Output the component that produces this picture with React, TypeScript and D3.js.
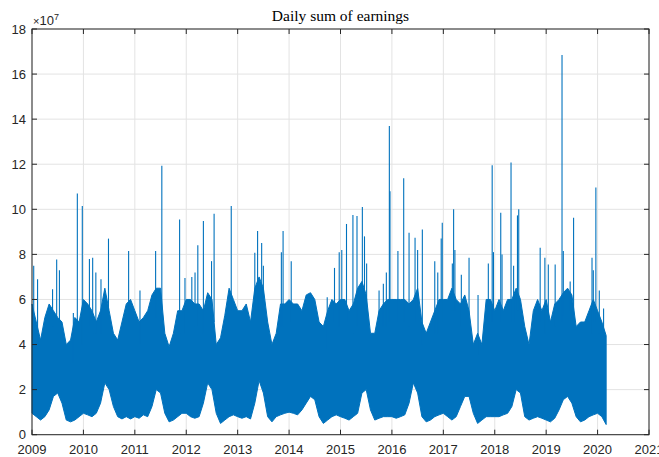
import * as d3 from "d3";

const WIDTH = 659;
const HEIGHT = 457;
const MARGIN = { top: 29, right: 10, bottom: 22.3, left: 32 };

const START_YEAR = 2009;
const xTicks = [2009, 2010, 2011, 2012, 2013, 2014, 2015, 2016, 2017, 2018, 2019, 2020, 2021];
const yTicks = [0, 2, 4, 6, 8, 10, 12, 14, 16, 18];

// monthly top of the dense band (x 1e7), Jan 2009 .. Mar 2020
const monthlyHigh = [
  5.8, 5.0, 4.2, 5.2, 5.8, 5.5, 5.2, 5.0, 4.0, 4.2, 5.2, 5.0,
  6.0, 5.8, 5.5, 5.0, 5.5, 6.5, 5.5, 4.5, 4.2, 5.0, 5.8, 6.0,
  5.5, 5.0, 5.2, 5.5, 6.2, 6.5, 6.5, 4.5, 3.9, 4.5, 5.5, 5.5,
  6.0, 6.0, 5.8, 5.8, 5.5, 6.3, 6.0, 4.0, 4.3, 5.3, 6.5, 6.0,
  5.5, 5.5, 5.8, 5.0, 6.5, 7.0, 6.5, 5.0, 4.0, 4.5, 5.8, 5.8,
  6.0, 5.8, 5.8, 5.5, 6.2, 6.3, 6.0, 5.0, 4.8, 5.5, 6.0, 5.8,
  6.0, 6.0, 5.5, 5.8, 6.5, 6.8, 6.2, 4.5, 4.5, 5.5, 5.8, 6.0,
  6.0, 6.0, 6.0, 6.0, 5.8, 6.0, 6.5, 5.0, 4.5, 5.0, 5.5, 6.0,
  6.0, 6.0, 6.5, 6.0, 5.8, 6.2, 5.5, 4.0, 4.5, 4.0, 6.0, 6.0,
  5.5, 6.0, 5.5, 6.0, 6.0, 6.5, 6.0, 4.8, 4.0, 5.5, 6.0, 5.5,
  6.0, 5.0, 5.8, 6.0, 6.3, 6.5, 6.2, 4.8, 5.0, 5.0, 5.5, 6.0,
  5.5, 5.0, 4.4,
];

// monthly lower envelope (x 1e7)
const monthlyLow = [
  0.95, 0.8, 0.65, 0.8, 1.1, 1.7, 1.85, 1.4, 0.65, 0.57, 0.65, 0.8,
  0.95, 0.88, 0.8, 0.95, 1.4, 2.3, 2.0, 1.25, 0.8, 0.7, 0.8, 0.7,
  0.8, 0.73, 0.88, 0.8, 1.25, 2.0, 1.85, 0.95, 0.57, 0.65, 0.8, 0.95,
  0.95, 0.8, 0.73, 0.8, 1.4, 2.3, 2.0, 0.95, 0.5, 0.65, 0.8, 0.88,
  0.8, 0.73, 0.8, 0.7, 1.4, 2.4, 1.85, 0.8, 0.57, 0.8, 0.88, 0.95,
  1.0, 0.95, 0.88, 1.1, 1.4, 1.7, 1.55, 0.8, 0.5, 0.65, 0.8, 0.88,
  0.8, 0.73, 0.65, 0.8, 0.95, 1.85, 2.0, 1.1, 0.65, 0.73, 0.8, 0.8,
  0.8, 0.73, 0.8, 0.88, 1.4, 2.3, 1.85, 0.8, 0.57, 0.65, 0.8, 0.88,
  0.95, 0.8, 0.65, 0.8, 1.25, 1.7, 1.7, 0.95, 0.5, 0.65, 0.8, 0.8,
  0.8, 0.8, 0.88, 0.95, 1.25, 2.0, 1.85, 0.8, 0.65, 0.73, 0.8, 0.73,
  0.65, 0.57, 0.73, 1.1, 1.55, 1.7, 1.4, 0.8, 0.57, 0.65, 0.8, 0.88,
  0.95, 0.8, 0.45,
];

// isolated daily peaks: [months since Jan 2009, value x 1e7]
const spikes: [number, number][] = [
  [0.4, 7.5], [1.3, 6.9], [4.8, 6.45], [5.76, 7.77], [6.4, 7.3], [9.65, 5.4],
  [10.58, 10.7], [11.74, 10.15], [13.4, 7.8], [14.16, 7.85], [14.9, 7.2],
  [16.1, 6.9], [17.85, 8.7], [22.55, 8.15], [25.2, 6.4], [28.85, 8.15],
  [30.3, 11.93], [34.45, 9.55], [35.7, 6.95], [37.3, 7.0], [38.05, 7.2],
  [38.7, 8.4], [40.0, 9.48], [41.9, 7.7], [42.5, 9.8], [46.5, 10.15],
  [52.0, 8.07], [52.65, 9.04], [53.6, 8.5], [54.0, 7.5], [58.2, 8.1],
  [58.6, 9.04], [60.5, 7.7], [68.9, 6.1], [70.6, 7.4], [71.7, 8.1],
  [72.3, 8.2], [73.4, 9.35], [74.9, 9.75], [75.85, 9.7], [77.1, 10.1],
  [77.6, 8.8], [78.1, 7.6], [81.0, 6.4], [82.0, 6.7], [82.7, 7.2],
  [83.4, 13.7], [83.55, 10.8], [85.4, 8.15], [86.75, 11.38], [88.0, 8.96],
  [89.4, 8.74], [90.0, 8.2], [91.1, 9.1], [94.0, 7.7], [94.7, 7.2],
  [95.5, 8.7], [95.75, 9.4], [98.1, 7.6], [98.4, 10.0], [98.7, 8.2],
  [100.2, 7.1], [102.0, 7.85], [104.1, 6.2], [106.5, 7.6], [107.4, 11.96],
  [107.7, 8.1], [109.4, 9.85], [109.7, 8.0], [111.8, 12.08], [112.4, 7.5],
  [113.3, 9.73], [113.6, 10.0], [118.6, 8.3], [119.7, 7.85], [120.5, 7.55],
  [122.1, 7.55], [123.7, 16.85], [124.0, 8.15], [125.6, 6.8], [126.4, 9.63],
  [130.7, 7.85], [131.0, 7.3], [131.6, 10.97], [132.4, 6.4], [133.4, 5.6],
];

const LINE_COLOR = "#0072BD";
const AXIS_COLOR = "#262626";
const GRID_COLOR = "#e3e3e3";
const SANS = "'Liberation Sans', Arial, Helvetica, sans-serif";
const SERIF = "'Liberation Serif', 'Times New Roman', serif";

const App = () => {
  const boundsWidth = WIDTH - MARGIN.left - MARGIN.right;
  const boundsHeight = HEIGHT - MARGIN.top - MARGIN.bottom;

  const xScale = d3.scaleLinear().domain([2009, 2021]).range([0, boundsWidth]);
  const yScale = d3.scaleLinear().domain([0, 18]).range([boundsHeight, 0]);

  const monthX = (m: number) => xScale(START_YEAR + m / 12);

  const band = monthlyHigh.map((h, i) => ({ m: i, hi: h, lo: monthlyLow[i] }));

  const areaBuilder = d3
    .area<{ m: number; hi: number; lo: number }>()
    .x((d) => monthX(d.m))
    .y0((d) => yScale(d.lo))
    .y1((d) => yScale(d.hi));

  const bandPath = areaBuilder(band);

  const spikeLines = spikes.map(([m, v], i) => {
    const idx = Math.min(monthlyLow.length - 1, Math.floor(m));
    return (
      <line
        key={i}
        x1={monthX(m)}
        x2={monthX(m)}
        y1={yScale(monthlyHigh[idx] - 1)}
        y2={yScale(v)}
        stroke={LINE_COLOR}
        strokeWidth={1.1}
      />
    );
  });

  const tickLen = 5;

  return (
    <svg
      width={WIDTH}
      height={HEIGHT}
      style={{ position: "absolute", left: 0, top: 0, background: "white" }}
    >
      <text
        x={MARGIN.left + boundsWidth / 2}
        y={21}
        textAnchor="middle"
        fontFamily={SERIF}
        fontSize={15.5}
        fill="#000"
      >
        Daily sum of earnings
      </text>
      <g transform={`translate(${MARGIN.left},${MARGIN.top})`}>
        {/* grid */}
        {xTicks.map((t) => (
          <line
            key={"gx" + t}
            x1={xScale(t)}
            x2={xScale(t)}
            y1={0}
            y2={boundsHeight}
            stroke={GRID_COLOR}
            strokeWidth={1}
          />
        ))}
        {yTicks.map((t) => (
          <line
            key={"gy" + t}
            x1={0}
            x2={boundsWidth}
            y1={yScale(t)}
            y2={yScale(t)}
            stroke={GRID_COLOR}
            strokeWidth={1}
          />
        ))}

        {/* data */}
        <path d={bandPath!} fill={LINE_COLOR} stroke={LINE_COLOR} strokeWidth={1} />
        {spikeLines}

        {/* box */}
        <rect
          x={0}
          y={0}
          width={boundsWidth}
          height={boundsHeight}
          fill="none"
          stroke={AXIS_COLOR}
          strokeWidth={1}
        />

        {/* x ticks */}
        {xTicks.map((t) => (
          <g key={"tx" + t}>
            <line x1={xScale(t)} x2={xScale(t)} y1={boundsHeight} y2={boundsHeight - tickLen} stroke={AXIS_COLOR} />
            <line x1={xScale(t)} x2={xScale(t)} y1={0} y2={tickLen} stroke={AXIS_COLOR} />
            <text
              x={xScale(t)}
              y={boundsHeight + 19.5}
              textAnchor="middle"
              fontFamily={SANS}
              fontSize={13}
              fill={AXIS_COLOR}
            >
              {t}
            </text>
          </g>
        ))}

        {/* y ticks */}
        {yTicks.map((t) => (
          <g key={"ty" + t}>
            <line x1={0} x2={tickLen} y1={yScale(t)} y2={yScale(t)} stroke={AXIS_COLOR} />
            <line x1={boundsWidth} x2={boundsWidth - tickLen} y1={yScale(t)} y2={yScale(t)} stroke={AXIS_COLOR} />
            <text
              x={-6}
              y={yScale(t)}
              textAnchor="end"
              dominantBaseline="central"
              fontFamily={SANS}
              fontSize={13}
              fill={AXIS_COLOR}
            >
              {t}
            </text>
          </g>
        ))}

        {/* exponent */}
        <text x={1} y={-4} fontFamily={SANS} fill={AXIS_COLOR}>
          <tspan fontSize={11}>×</tspan>
          <tspan fontSize={13}>10</tspan>
          <tspan fontSize={9} dy={-5}>7</tspan>
        </text>
      </g>
    </svg>
  );
};

export default App;
